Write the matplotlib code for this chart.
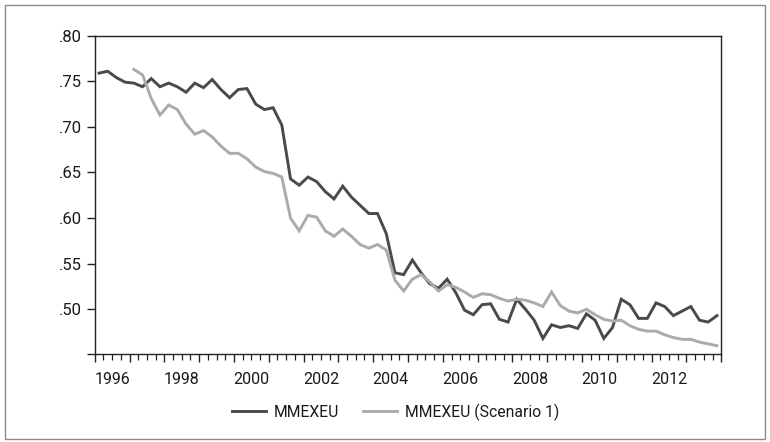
import numpy as np
import matplotlib
matplotlib.use("Agg")
import matplotlib.pyplot as plt
from matplotlib.patches import Rectangle
from matplotlib.ticker import FixedLocator, FixedFormatter

# ---------------- data (quarterly, 1996Q1 - 2013Q4) ----------------
start_year = 1996
end_year = 2013
label_years = [1996, 1998, 2000, 2002, 2004, 2006, 2008, 2010, 2012]
y_ticks = [0.50, 0.55, 0.60, 0.65, 0.70, 0.75, 0.80]
y_tick_labels = [".50", ".55", ".60", ".65", ".70", ".75", ".80"]

mmexeu = [
    0.759, 0.761, 0.754, 0.749, 0.748, 0.744, 0.753, 0.744,   # 1996-1997
    0.748, 0.744, 0.738, 0.748, 0.743, 0.752, 0.741, 0.732,   # 1998-1999
    0.741, 0.742, 0.725, 0.719, 0.721, 0.702, 0.643, 0.636,   # 2000-2001
    0.645, 0.640, 0.629, 0.621, 0.635, 0.623, 0.614, 0.605,   # 2002-2003
    0.605, 0.583, 0.540, 0.538, 0.554, 0.540, 0.528, 0.523,   # 2004-2005
    0.533, 0.518, 0.499, 0.494, 0.505, 0.506, 0.489, 0.486,   # 2006-2007
    0.511, 0.500, 0.488, 0.468, 0.483, 0.480, 0.482, 0.479,   # 2008-2009
    0.495, 0.488, 0.468, 0.480, 0.511, 0.505, 0.490, 0.490,   # 2010-2011
    0.507, 0.503, 0.493, 0.498, 0.503, 0.488, 0.486, 0.493,   # 2012-2013
]

scenario1 = [
    np.nan, np.nan, np.nan, np.nan, 0.763, 0.757, 0.731, 0.713,   # 1996-1997
    0.724, 0.719, 0.703, 0.692, 0.696, 0.689, 0.679, 0.671,       # 1998-1999
    0.671, 0.665, 0.656, 0.651, 0.649, 0.645, 0.600, 0.586,       # 2000-2001
    0.603, 0.601, 0.586, 0.580, 0.588, 0.580, 0.571, 0.567,       # 2002-2003
    0.571, 0.565, 0.532, 0.520, 0.533, 0.538, 0.530, 0.520,       # 2004-2005
    0.527, 0.524, 0.519, 0.513, 0.517, 0.516, 0.512, 0.509,       # 2006-2007
    0.511, 0.510, 0.507, 0.503, 0.519, 0.504, 0.498, 0.496,       # 2008-2009
    0.500, 0.494, 0.489, 0.487, 0.488, 0.482, 0.478, 0.476,       # 2010-2011
    0.476, 0.472, 0.469, 0.467, 0.467, 0.464, 0.462, 0.460,       # 2012-2013
]

series_names = ["MMEXEU", "MMEXEU (Scenario 1)"]
series_colors = ["#4a4a4a", "#ababab"]

# ---------------- figure ----------------
plt.rcParams['font.family'] = ['Roboto', 'DejaVu Sans']

W, H = 770, 442
fig = plt.figure(figsize=(W / 100, H / 100), dpi=100)
ax = fig.add_axes([94.7 / W, 1 - 353.5 / H, (721.3 - 94.7) / W, (353.5 - 35.7) / H])

n_q = (end_year - start_year + 1) * 4
x = np.arange(n_q) + 0.5

ax.plot(x, mmexeu, color=series_colors[0], lw=2.1, label=series_names[0],
        solid_joinstyle='miter')
ax.plot(x, scenario1, color=series_colors[1], lw=2.1, label=series_names[1],
        solid_joinstyle='miter')

ax.set_xlim(0, n_q)
ymin = 0.4515
ax.set_ylim(ymin, 0.80)

# x ticks: major at each year boundary, minor at each quarter, labels in the middle of even years
ax.xaxis.set_major_locator(FixedLocator(np.arange(0, n_q + 1, 4)))
ax.xaxis.set_minor_locator(FixedLocator(np.arange(0, n_q + 1, 1)))
ax.set_xticklabels([])
for yr in label_years:
    ax.text((yr - start_year) * 4 + 2, -0.058, str(yr), transform=ax.get_xaxis_transform(),
            ha='center', va='top', fontsize=11.5, color='#1a1a1a')

ax.yaxis.set_major_locator(FixedLocator([ymin] + y_ticks))
ax.yaxis.set_major_formatter(FixedFormatter([""] + y_tick_labels))

ax.tick_params(axis='x', which='major', direction='out', length=6, width=1.0, color='#222222')
ax.tick_params(axis='x', which='minor', direction='out', length=4, width=0.9, color='#222222')
ax.tick_params(axis='y', which='major', direction='out', length=5.5, width=1.0,
               color='#222222', labelsize=12, pad=4, labelcolor='#1a1a1a')

for s in ax.spines.values():
    s.set_color('#222222')
    s.set_linewidth(1.0)

leg = fig.legend(loc='center', bbox_to_anchor=(395.5 / W, 1 - 412 / H), ncol=2,
                 frameon=False, fontsize=11.3, handlelength=2.2, handletextpad=0.5,
                 columnspacing=1.5, labelcolor='#1a1a1a')
for line in leg.get_lines():
    line.set_linewidth(2.1)

# outer frame
fig.patches.append(Rectangle((5 / W, 3 / H), (765 - 5) / W, (437 - 3) / H,
                             transform=fig.transFigure, fill=False,
                             edgecolor='#8c8c8c', linewidth=1.0))

fig.savefig("out.png", dpi=100)
